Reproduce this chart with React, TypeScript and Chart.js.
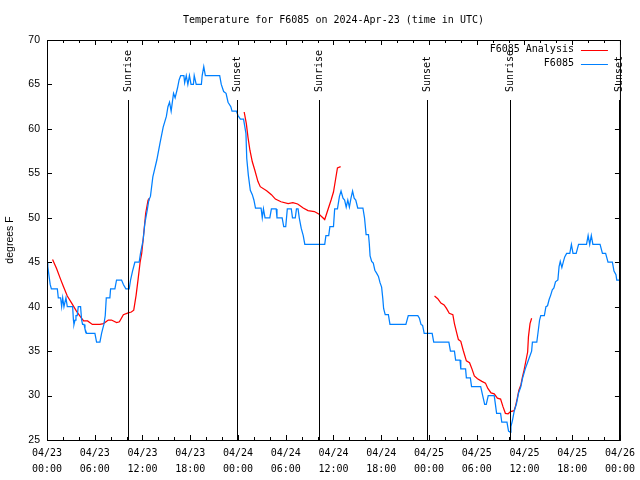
import React, { useEffect, useRef } from "react";
import { Chart, registerables } from "chart.js";

Chart.register(...registerables);

const chartTitle = "Temperature for F6085 on 2024-Apr-23 (time in UTC)";
const yAxisTitle = "degrees F";
const seriesNames = ["F6085 Analysis", "F6085"];
const seriesColors = ["#ff0000", "#0080ff"];

// x tick labels every 6 hours (hours since 04/23 00:00 UTC)
const xTickLabels: string[][] = [
  ["04/23", "00:00"], ["04/23", "06:00"], ["04/23", "12:00"], ["04/23", "18:00"],
  ["04/24", "00:00"], ["04/24", "06:00"], ["04/24", "12:00"], ["04/24", "18:00"],
  ["04/25", "00:00"], ["04/25", "06:00"], ["04/25", "12:00"], ["04/25", "18:00"],
  ["04/26", "00:00"],
];

const sunEventHours = [10.16, 23.83, 34.12, 47.79, 58.2, 71.85];
const sunEventLabels = ["Sunrise", "Sunset", "Sunrise", "Sunset", "Sunrise", "Sunset"];

// [hour, degF]
const analysisSeries: [number, number | null][] = [
  [0.7, 45.3], [1.2, 44.3], [1.7, 43.1], [2.05, 42.3], [2.55, 41.2], [3.1, 40.4], [3.7, 39.5],
  [4.1, 39], [4.6, 38.4], [5.1, 38.4], [5.7, 38], [6.65, 38], [7.1, 38.1], [7.7, 38.5], [8.1, 38.5],
  [8.75, 38.2], [9.1, 38.3], [9.6, 39.1], [10.2, 39.3], [10.6, 39.4], [10.9, 39.6], [11.2, 41.3],
  [11.45, 43.1], [11.7, 45], [11.9, 46], [12.1, 47.7], [12.4, 50.5], [12.7, 52], [12.8, 52.2],
  [18, null],
  [24.78, 61.9], [25.05, 60.6], [25.25, 59.1], [25.5, 57.6], [25.8, 56.3], [26.1, 55.4], [26.5, 54.1],
  [26.8, 53.5], [27.6, 53.05], [28.2, 52.6], [28.7, 52.1], [29.4, 51.8], [30.3, 51.6], [30.9, 51.7],
  [31.5, 51.55], [32.2, 51.1], [32.8, 50.8], [33.6, 50.7], [34.2, 50.4], [34.9, 49.8], [35.3, 50.9],
  [35.7, 52], [36.0, 52.9], [36.25, 54.25], [36.5, 55.6], [36.9, 55.75],
  [42, null],
  [48.7, 41.2], [49.1, 40.9], [49.5, 40.4], [49.9, 40.2], [50.2, 39.8], [50.55, 39.25], [51.0, 39.1],
  [51.2, 38.1], [51.5, 37], [51.7, 36.3], [52.0, 36.1], [52.3, 35.1], [52.7, 33.9], [53.1, 33.7],
  [53.4, 33], [53.7, 32.2], [54.1, 31.9], [54.65, 31.6], [55.1, 31.4], [55.4, 30.8], [55.8, 30.3],
  [56.2, 30.2], [56.6, 29.7], [57.0, 29.6], [57.3, 28.75], [57.6, 28], [57.95, 27.95], [58.25, 28.2],
  [58.7, 28.3], [58.9, 28.9], [59.1, 29.7], [59.3, 30.6], [59.55, 31.2], [59.75, 32.1], [59.96, 32.9],
  [60.2, 34], [60.4, 34.9], [60.5, 36.6], [60.7, 38.1], [60.9, 38.7],
];

const observedSeries: [number, number][] = [
  [0, 45], [0.1, 44.5], [0.25, 43.5], [0.4, 42.5], [0.55, 42], [1.3, 42], [1.42, 41], [1.71, 41],
  [1.84, 40], [1.97, 41], [2.13, 40], [2.38, 41], [2.55, 40], [3.22, 40], [3.32, 38.5], [3.39, 38],
  [3.52, 38.5], [3.64, 39], [3.8, 39], [3.93, 40], [4.22, 40], [4.35, 38.5], [4.47, 38], [4.65, 38],
  [4.77, 37.5], [4.98, 37], [6.02, 37], [6.23, 36], [6.65, 36], [6.86, 37], [7.0, 37.5], [7.15, 38],
  [7.32, 39], [7.45, 41], [7.9, 41], [7.99, 42], [8.53, 42], [8.74, 43], [9.37, 43], [9.6, 42.5],
  [9.91, 42], [10.33, 42], [10.5, 43], [10.75, 44], [11.04, 45], [11.58, 45], [11.75, 46], [12.08, 47.5],
  [12.3, 49.4], [12.6, 50.9], [12.8, 52], [13.0, 52.4], [13.3, 54.6], [13.8, 56.5], [14.2, 58.4],
  [14.6, 60.2], [15.0, 61.4], [15.2, 62.5], [15.4, 63], [15.6, 62], [15.9, 64], [16.1, 63.5],
  [16.4, 64.6], [16.6, 65.5], [16.8, 66], [17.2, 66], [17.3, 65.2], [17.5, 66], [17.7, 65], [17.9, 66],
  [18.1, 65], [18.4, 65], [18.5, 66], [18.75, 65], [19.4, 65], [19.5, 66], [19.7, 67], [19.9, 66],
  [21.7, 66], [21.9, 65], [22.2, 64.2], [22.5, 64], [22.75, 63], [23.1, 62.5], [23.25, 62], [23.8, 62],
  [24.0, 61.5], [24.3, 61.1], [24.7, 61.1], [25.0, 59.5], [25.1, 56.7], [25.3, 54.8], [25.55, 53.1],
  [25.8, 52.6], [26.0, 52], [26.2, 51.1], [26.9, 51.1], [27.05, 50], [27.2, 51], [27.4, 50], [28.0, 50],
  [28.2, 51], [28.8, 51], [28.9, 50], [29.55, 50], [29.75, 49], [30.0, 49], [30.2, 51], [30.7, 51],
  [30.85, 50], [31.2, 50], [31.35, 51], [31.55, 51], [31.7, 50], [31.95, 48.8], [32.2, 48], [32.4, 47],
  [34.9, 47], [35.05, 48], [35.4, 48], [35.55, 49], [36.0, 49], [36.15, 51], [36.5, 51], [36.75, 52.4],
  [36.95, 53], [37.2, 52.2], [37.4, 52], [37.6, 51.2], [37.8, 52], [38.0, 51.2], [38.2, 52.2],
  [38.4, 53], [38.6, 52.2], [38.8, 52], [39.05, 51.1], [39.7, 51.1], [39.9, 50], [40.1, 48.1],
  [40.4, 48.1], [40.5, 47.1], [40.6, 45.7], [40.8, 45.1], [41.0, 44.9], [41.2, 44.1], [41.4, 43.8],
  [41.65, 43.4], [41.85, 42.7], [42.05, 42.2], [42.2, 40.9], [42.3, 39.8], [42.5, 39.1], [42.9, 39.1],
  [43.1, 38], [45.1, 38], [45.4, 39], [46.6, 39], [46.8, 38.7], [47.0, 38], [47.2, 37.9], [47.4, 37],
  [48.4, 37], [48.6, 36], [50.5, 36], [50.7, 35], [51.2, 35], [51.35, 34], [51.9, 34], [52.0, 33],
  [52.6, 33], [52.7, 32], [53.2, 32], [53.35, 31], [54.5, 31], [54.75, 30], [55.0, 29], [55.2, 29],
  [55.45, 30], [56.2, 30], [56.35, 29], [56.5, 28], [57.0, 28], [57.15, 27], [57.8, 27], [58.0, 26],
  [58.2, 25.9], [58.3, 26.5], [58.5, 27.25], [58.7, 28.2], [59.0, 29.1], [59.25, 30.25], [59.55, 31],
  [59.75, 31.9], [60.1, 33], [60.5, 34], [60.9, 35], [61.0, 36], [61.55, 36], [61.75, 37.4],
  [61.9, 38.5], [62.05, 39], [62.5, 39], [62.7, 40], [62.9, 40.1], [63.1, 40.8], [63.3, 41.3],
  [63.5, 41.9], [63.7, 42.1], [63.9, 42.8], [64.2, 43], [64.35, 44.5], [64.5, 45.1], [64.7, 44.4],
  [64.9, 45.1], [65.06, 45.6], [65.3, 46], [65.7, 46], [65.9, 47], [66.1, 46], [66.5, 46], [66.8, 47],
  [67.8, 47], [68.0, 48], [68.2, 47], [68.4, 48], [68.6, 47], [69.5, 47], [69.8, 46], [70.2, 46],
  [70.5, 45], [71.05, 45], [71.25, 44], [71.5, 43.6], [71.6, 43], [71.9, 43],
];

const monoFont = "'DejaVu Sans Mono', monospace";
const sansFont = "'Liberation Sans', Arial, sans-serif";

const gnuplotDecor = {
  id: "gnuplotDecor",
  afterDatasetsDraw(chart: any) {
    const { ctx, chartArea: a, scales } = chart;
    const x = scales.x;
    const y = scales.y;
    const h = a.bottom - a.top;
    ctx.save();
    ctx.strokeStyle = "#000";
    ctx.fillStyle = "#000";
    ctx.lineWidth = 1;

    // title centred over the plot area
    ctx.font = `10px ${monoFont}`;
    ctx.textAlign = "center";
    ctx.textBaseline = "middle";
    ctx.fillText(chartTitle, (a.left + a.right) / 2, a.top - 20);

    // sunrise / sunset markers
    const lineTop = a.bottom - 0.85 * h;
    const textBase = a.bottom - 0.87 * h;
    sunEventHours.forEach((hr, i) => {
      const px = Math.round(x.getPixelForValue(hr)) + 0.5;
      ctx.beginPath();
      ctx.moveTo(px, lineTop);
      ctx.lineTo(px, a.bottom);
      ctx.stroke();
      ctx.save();
      ctx.translate(px, textBase);
      ctx.rotate(-Math.PI / 2);
      ctx.font = `10px ${monoFont}`;
      ctx.textAlign = "left";
      ctx.textBaseline = "middle";
      ctx.fillText(sunEventLabels[i], 0, 0);
      ctx.restore();
    });

    // frame
    ctx.strokeRect(a.left + 0.5, a.top + 0.5, a.right - a.left, a.bottom - a.top);

    // inward ticks
    ctx.beginPath();
    x.ticks.forEach((t: any) => {
      const px = Math.round(x.getPixelForValue(t.value)) + 0.5;
      const len = t.value % 6 === 0 ? 5 : 3;
      ctx.moveTo(px, a.bottom);
      ctx.lineTo(px, a.bottom - len);
      ctx.moveTo(px, a.top);
      ctx.lineTo(px, a.top + len);
    });
    y.ticks.forEach((t: any) => {
      const py = Math.round(y.getPixelForValue(t.value)) + 0.5;
      ctx.moveTo(a.left, py);
      ctx.lineTo(a.left + 5, py);
      ctx.moveTo(a.right, py);
      ctx.lineTo(a.right - 5, py);
    });
    ctx.stroke();

    // legend (text, then sample line)
    ctx.font = `10px ${monoFont}`;
    ctx.textAlign = "right";
    ctx.textBaseline = "middle";
    chart.data.datasets.forEach((ds: any, i: number) => {
      const yy = a.top + 9.5 + i * 14;
      ctx.fillStyle = "#000";
      ctx.fillText(ds.label, a.right - 46, yy);
      ctx.strokeStyle = ds.borderColor;
      ctx.beginPath();
      ctx.moveTo(a.right - 39, Math.round(yy) + 0.5);
      ctx.lineTo(a.right - 12, Math.round(yy) + 0.5);
      ctx.stroke();
    });
    ctx.restore();
  },
};

export default function App() {
  const canvasRef = useRef<HTMLCanvasElement | null>(null);

  useEffect(() => {
    if (!canvasRef.current) return;
    const chart = new Chart(canvasRef.current, {
      type: "line",
      data: {
        datasets: [
          {
            label: seriesNames[0],
            data: analysisSeries.map(([hx, t]) => ({ x: hx, y: t })),
            borderColor: seriesColors[0],
            borderWidth: 1.25,
            pointRadius: 0,
            tension: 0,
            fill: false,
            spanGaps: false,
            order: 1,
          },
          {
            label: seriesNames[1],
            data: observedSeries.map(([hx, t]) => ({ x: hx, y: t })),
            borderColor: seriesColors[1],
            borderWidth: 1.25,
            pointRadius: 0,
            tension: 0,
            fill: false,
            order: 0,
          },
        ],
      },
      options: {
        animation: false,
        responsive: false,
        devicePixelRatio: 1,
        layout: { padding: { left: 0, right: 19, top: 40, bottom: 0 } },
        plugins: {
          legend: { display: false },
          tooltip: { enabled: false },
          title: { display: false },
        },
        scales: {
          x: {
            type: "linear",
            min: 0,
            max: 72,
            grid: { display: false, drawTicks: false },
            border: { display: false },
            afterFit: (s: any) => {
              s.height = 40;
            },
            ticks: {
              stepSize: 2,
              autoSkip: false,
              maxRotation: 0,
              minRotation: 0,
              padding: 5,
              color: "#000",
              font: { family: monoFont, size: 10, lineHeight: 1.6 },
              callback: (v: any) => {
                const n = Number(v);
                return n % 6 === 0 ? xTickLabels[n / 6] : "";
              },
            },
          },
          y: {
            min: 25,
            max: 70,
            grid: { display: false, drawTicks: false },
            border: { display: false },
            afterFit: (s: any) => {
              s.width = 47;
            },
            ticks: {
              stepSize: 5,
              padding: 7,
              color: "#000",
              font: { family: sansFont, size: 10.5 },
            },
            title: {
              display: true,
              text: yAxisTitle,
              color: "#000",
              font: { family: sansFont, size: 10.5 },
              padding: { top: 4, bottom: 0 },
            },
          },
        },
      },
      plugins: [gnuplotDecor],
    });
    return () => chart.destroy();
  }, []);

  return (
    <div style={{ position: "fixed", left: 0, top: 0, width: 640, height: 480, background: "#fff" }}>
      <canvas ref={canvasRef} width={640} height={480} style={{ display: "block" }} />
    </div>
  );
}
